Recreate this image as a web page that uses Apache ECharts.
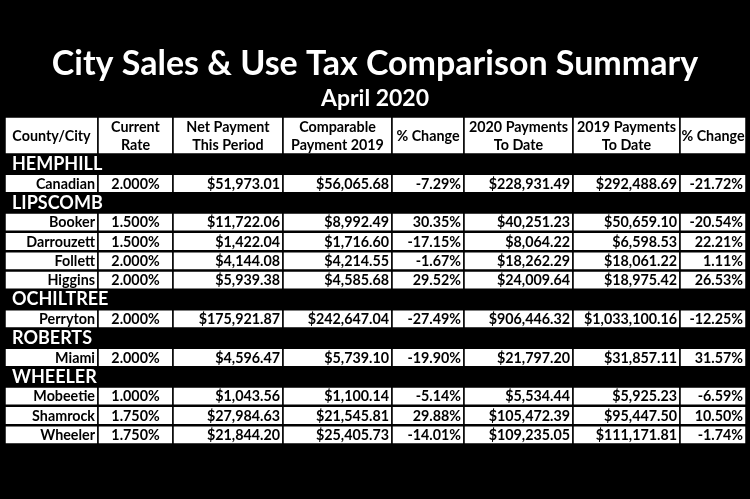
<!DOCTYPE html>
<html><head><meta charset="utf-8">
<script src="https://cdn.jsdelivr.net/npm/echarts@6/dist/echarts.min.js"></script>
<style>html,body{margin:0;background:#000}#c{width:750px;height:499px}</style>
</head><body><div id="c"></div>
<script>
// 表头与数据
var headers = ['County/City', 'Current\nRate', 'Net Payment\nThis Period', 'Comparable\nPayment 2019', '% Change', '2020 Payments\nTo Date', '2019 Payments\nTo Date', '% Change'];
var counties = ['HEMPHILL', 'LIPSCOMB', 'OCHILTREE', 'ROBERTS', 'WHEELER'];
var cityCounty = [0, 1, 1, 1, 1, 2, 3, 4, 4, 4];
var cities = ['Canadian', 'Booker', 'Darrouzett', 'Follett', 'Higgins', 'Perryton', 'Miami', 'Mobeetie', 'Shamrock', 'Wheeler'];
var rates = ['2.000%', '1.500%', '1.500%', '2.000%', '2.000%', '2.000%', '2.000%', '1.000%', '1.750%', '1.750%'];
var netPayment = ['$51,973.01', '$11,722.06', '$1,422.04', '$4,144.08', '$5,939.38', '$175,921.87', '$4,596.47', '$1,043.56', '$27,984.63', '$21,844.20'];
var comparable = ['$56,065.68', '$8,992.49', '$1,716.60', '$4,214.55', '$4,585.68', '$242,647.04', '$5,739.10', '$1,100.14', '$21,545.81', '$25,405.73'];
var pctChange = ['-7.29%', '30.35%', '-17.15%', '-1.67%', '29.52%', '-27.49%', '-19.90%', '-5.14%', '29.88%', '-14.01%'];
var ytd2020 = ['$228,931.49', '$40,251.23', '$8,064.22', '$18,262.29', '$24,009.64', '$906,446.32', '$21,797.20', '$5,534.44', '$105,472.39', '$109,235.05'];
var ytd2019 = ['$292,488.69', '$50,659.10', '$6,598.53', '$18,061.22', '$18,975.42', '$1,033,100.16', '$31,857.11', '$5,925.23', '$95,447.50', '$111,171.81'];
var ytdChange = ['-21.72%', '-20.54%', '22.21%', '1.11%', '26.53%', '-12.25%', '31.57%', '-6.59%', '10.50%', '-1.74%'];

var colX = [5, 98, 173, 283, 392, 464, 573, 680, 746];
var headTop = 117, headBot = 154, tableBot = 444;
var font = 'Lato, "Open Sans", sans-serif';

var chart = echarts.init(document.getElementById('c'));
var els = [];
els.push({type: 'text', left: 'center', top: 47, style: {text: 'City Sales & Use Tax Comparison Summary', fill: '#fff', font: 'bold 34px ' + font}});
els.push({type: 'text', left: 'center', top: 87, style: {text: 'April 2020', fill: '#fff', font: 'bold 23px ' + font}});

function cell(x0, x1, y0, y1, txt, align) {
  els.push({type: 'rect', shape: {x: x0, y: y0, width: x1 - x0, height: y1 - y0},
    style: {fill: '#fff', stroke: '#000', lineWidth: 1.5}});
  var tx = align === 'right' ? x1 - 3 : (x0 + x1) / 2;
  els.push({type: 'text', x: tx, y: (y0 + y1) / 2 + 0.5,
    style: {text: txt, fill: '#000', font: 'bold 14.3px ' + font, align: align, verticalAlign: 'middle', lineHeight: 18}});
}

headers.forEach(function (h, i) { cell(colX[i], colX[i + 1], headTop, headBot, h, 'center'); });

// 行序列：县名行 + 城市行
var rows = [];
cities.forEach(function (c, i) {
  if (i === 0 || cityCounty[i] !== cityCounty[i - 1]) rows.push({county: counties[cityCounty[i]]});
  rows.push({idx: i});
});
var rh = (tableBot - headBot) / rows.length;
rows.forEach(function (r, k) {
  var y0 = headBot + k * rh, y1 = y0 + rh;
  if (r.county) {
    els.push({type: 'text', x: 12, y: (y0 + y1) / 2 + 0.5,
      style: {text: r.county, fill: '#fff', font: 'bold 18px ' + font, verticalAlign: 'middle'}});
    return;
  }
  var i = r.idx;
  var vals = [cities[i], rates[i], netPayment[i], comparable[i], pctChange[i], ytd2020[i], ytd2019[i], ytdChange[i]];
  vals.forEach(function (v, j) {
    cell(colX[j], colX[j + 1], y0 + 1, y1, v, j === 1 ? 'center' : 'right');
  });
});

chart.setOption({backgroundColor: '#000', graphic: els});
</script>
</body></html>
